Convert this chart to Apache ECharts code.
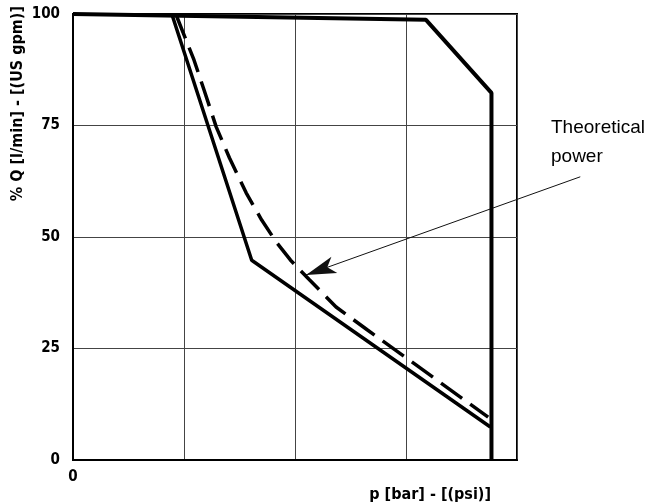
<!DOCTYPE html>
<html>
<head>
<meta charset="utf-8">
<script src="https://cdn.jsdelivr.net/npm/echarts@6/dist/echarts.min.js"></script>
<style>
html, body { margin: 0; padding: 0; background: #fff; }
#main { width: 654px; height: 504px; }
</style>
</head>
<body>
<div id="main"></div>
<script>
// axis ticks
var xTicks = [0, 1, 2, 3, 4];
var yTicks = [0, 25, 50, 75, 100];

// outer limit curve (solid)
var outerX = [0, 3.18, 3.77, 3.77];
var outerY = [100, 98.7, 82.3, 0];

// inner regulation curve (solid)
var innerX = [0.89, 1.61, 3.76];
var innerY = [100, 44.8, 7.4];

// theoretical power (dashed)
var powerX = [0.93, 0.94, 1.09, 1.18, 1.29, 1.41, 1.56, 1.70, 1.83, 1.96, 2.13, 2.37, 2.65, 2.93, 3.74];
var powerY = [100, 99.1, 89.7, 83.0, 74.7, 67.7, 59.9, 53.8, 48.9, 44.8, 40.4, 34.3, 29.2, 24.2, 9.6];

// annotation arrow: from label to curve
var arrowFrom = [4.57, 63.5];
var arrowTo = [2.10, 41.5];

var labelFont = '"Liberation Sans Narrow", "DejaVu Sans Condensed", sans-serif';

function pairs(xs, ys) {
	var out = [];
	for (var i = 0; i < xs.length; i++) {
		out.push([xs[i], ys[i]]);
	}
	return out;
}

var myChart = echarts.init(document.getElementById('main'));

var option = {
	animation : false,
	grid : {
		left : 73,
		top : 14,
		right : 137,
		bottom : 44,
		show : true,
		borderColor : '#000',
		borderWidth : 2
	},
	xAxis : {
		type : 'value',
		min : xTicks[0],
		max : xTicks[xTicks.length - 1],
		interval : 1,
		axisLine : { lineStyle : { color : '#000', width : 2 } },
		axisTick : { show : false },
		splitLine : { lineStyle : { color : '#444', width : 1 } },
		axisLabel : {
			margin : 10,
			color : '#000',
			fontFamily : labelFont,
			fontWeight : 'bold',
			fontSize : 15,
			formatter : function(v) { return v === 0 ? '0' : ''; }
		}
	},
	yAxis : {
		type : 'value',
		min : yTicks[0],
		max : yTicks[yTicks.length - 1],
		interval : 25,
		axisLine : { lineStyle : { color : '#000', width : 2 } },
		axisTick : { show : false },
		splitLine : { lineStyle : { color : '#444', width : 1 } },
		axisLabel : {
			margin : 13,
			color : '#000',
			fontFamily : labelFont,
			fontWeight : 'bold',
			fontSize : 15
		}
	},
	graphic : [ {
		type : 'text',
		left : 10,
		top : 6,
		rotation : Math.PI / 2,
		style : {
			text : '% Q [l/min] - [(US gpm)]',
			font : 'bold 16px ' + labelFont,
			fill : '#000'
		}
	}, {
		type : 'text',
		right : 163,
		bottom : 1,
		style : {
			text : 'p [bar] - [(psi)]',
			font : 'bold 16px ' + labelFont,
			fill : '#000'
		}
	}, {
		type : 'text',
		left : 551,
		top : 113,
		style : {
			text : 'Theoretical\npower',
			font : '19px "Liberation Sans", Arial, sans-serif',
			lineHeight : 29,
			fill : '#000'
		}
	} ],
	series : [ {
		name : 'outer',
		type : 'line',
		data : pairs(outerX, outerY),
		symbol : 'none',
		clip : false,
		lineStyle : { color : '#000', width : 4 }
	}, {
		name : 'inner',
		type : 'line',
		data : pairs(innerX, innerY),
		symbol : 'none',
		lineStyle : { color : '#000', width : 3.5 }
	}, {
		name : 'power',
		type : 'line',
		data : pairs(powerX, powerY),
		symbol : 'none',
		lineStyle : { color : '#000', width : 3.5, type : [26, 10] }
	}, {
		name : 'arrow',
		type : 'lines',
		coordinateSystem : 'cartesian2d',
		clip : false,
		silent : true,
		symbol : [ 'none', 'arrow' ],
		symbolSize : [ 1, [ 13, 30 ] ],
		lineStyle : { color : '#111', width : 1, opacity : 1 },
		data : [ { coords : [ arrowFrom, arrowTo ] } ]
	} ]
};

myChart.setOption(option);
</script>
</body>
</html>
